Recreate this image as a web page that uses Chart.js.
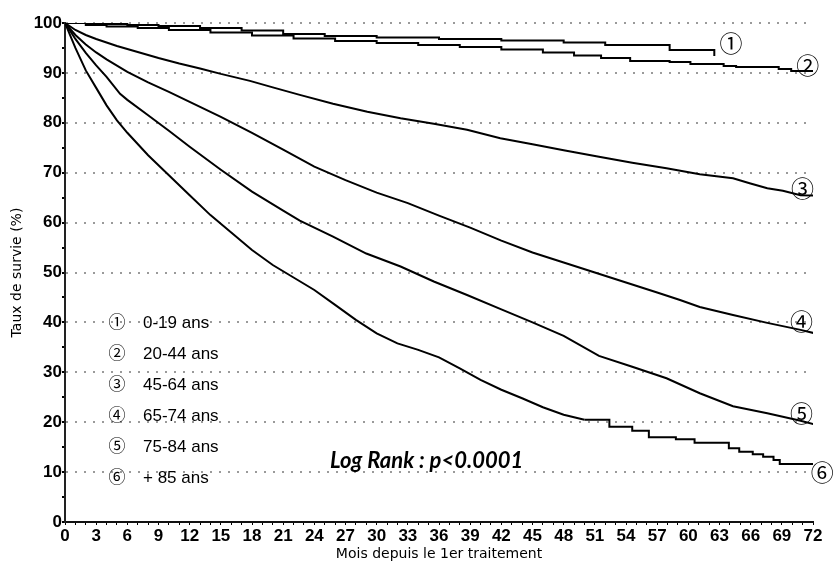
<!DOCTYPE html>
<html>
<head>
<meta charset="utf-8">
<script src="https://cdn.jsdelivr.net/npm/chart.js@4.4.1/dist/chart.umd.min.js"></script>
<style>
    html, body { margin: 0; padding: 0; background: #fff; }
    #wrap { width: 833px; height: 563px; }
</style>
</head>
<body>
<div id="wrap"><canvas id="survival-chart" width="833" height="563"></canvas></div>
<script>
// Kaplan-Meier curves, [month, survival %]
const groupNames = ['0-19 ans', '20-44 ans', '45-64 ans', '65-74 ans', '75-84 ans', '+ 85 ans'];
const groupMarks = ['\u2460', '\u2461', '\u2462', '\u2463', '\u2464', '\u2465'];

const curve1 = [[0, 100], [3, 99.8], [6, 99.6], [9, 99.4], [13, 99.0], [17, 98.5], [21, 97.8], [25, 97.4],
    [30, 97.1], [36, 96.8], [42, 96.5], [48, 96.1], [52, 95.6], [58.2, 94.6], [62.5, 93.4]];

const curve2 = [[0, 100], [2, 99.6], [4, 99.3], [7, 99.0], [10, 98.6], [14, 98.1], [18, 97.5], [22, 96.9],
    [26, 96.4], [30, 96.0], [34, 95.6], [38, 95.2], [42, 94.7], [46, 94.1], [49, 93.5], [51.6, 93.0],
    [54.4, 92.4], [58.2, 92.2], [60.2, 91.8], [63.4, 91.4], [64.6, 91.2], [68.7, 90.8], [69.9, 90.4], [72.4, 90.4]];

const curve3 = [[0, 100], [1, 98.6], [2, 97.6], [3, 96.8], [5, 95.4], [7, 94.2], [9, 93.0], [11, 91.9],
    [13, 90.9], [15, 89.8], [17.8, 88.4], [20, 87.1], [22.6, 85.6], [25.8, 83.8], [29.1, 82.2], [32.3, 80.9],
    [35.5, 79.8], [38.7, 78.6], [41.9, 76.9], [45, 75.7], [48, 74.5], [51.4, 73.2], [54.6, 72.0], [57.9, 70.9],
    [61.1, 69.7], [64.3, 68.9], [65.9, 67.9], [67.6, 66.9], [69.1, 66.4], [70.8, 65.5], [72.4, 65.4]];

const curve4 = [[0, 100], [1, 97.6], [2, 95.7], [3, 94.1], [4, 92.7], [6, 90.2], [8, 88.1], [10, 86.2],
    [12, 84.2], [15, 81.2], [18, 78.0], [21, 74.6], [24, 71.2], [27, 68.5], [30, 66.0], [33, 63.9],
    [36, 61.4], [39, 59.0], [42, 56.4], [45, 54.0], [48, 52.0], [51, 50.0], [54, 48.0], [57, 46.0],
    [59.2, 44.5], [61.1, 43.1], [64.3, 41.5], [67.6, 39.9], [70.8, 38.5], [72.4, 37.7]];

const curve5 = [[0, 100], [1, 96.8], [2, 94.0], [3, 91.5], [4, 89.2], [5.3, 85.8], [6, 84.6], [8, 81.5],
    [10, 78.4], [12, 75.2], [15, 70.6], [18, 66.2], [21, 62.4], [22.6, 60.4], [25.8, 57.2], [29, 53.8],
    [32.3, 51.2], [35.5, 48.2], [38.7, 45.5], [42, 42.6], [45, 40.0], [48, 37.3], [51.4, 33.3], [54.6, 31.1],
    [57.9, 28.8], [61.1, 25.8], [64.3, 23.2], [67.6, 21.8], [70.8, 20.3], [72.4, 19.4]];

const curve6 = [[0, 100], [1, 95.0], [2, 90.5], [3, 87.0], [4, 83.5], [5, 80.5], [6, 78.0], [8, 73.5],
    [10, 69.5], [12, 65.5], [14, 61.5], [16, 58.0], [18, 54.5], [20, 51.5], [22, 49.0], [24, 46.5],
    [26, 43.5], [28, 40.5], [30, 37.8], [32, 35.8], [34, 34.5], [36, 33.0], [38, 30.8], [40, 28.5],
    [42, 26.5], [44, 24.8], [46, 23.0], [48, 21.5], [50, 20.5]];
// late part of the +85 curve, drawn as steps
const curve6Steps = [[50, 20.5], [52.4, 19.1], [54.6, 18.3], [56.2, 17.0], [58.8, 16.6], [60.6, 15.9],
    [63.9, 14.8], [64.9, 14.1], [66.2, 13.6], [67.2, 13.1], [68.2, 12.4], [68.8, 11.6], [72.3, 11.6]];

const logRankText = 'Log Rank : p<0.0001';

function toPoints(curve) {
    return curve.map(([m, s]) => ({ x: m, y: s }));
}

function makeDataset(curve, stepped) {
    return {
        data: toPoints(curve),
        borderColor: '#000',
        borderWidth: 2,
        pointRadius: 0,
        stepped: stepped,
        tension: 0
    };
}

// circled numbers at curve ends, legend block, log rank text
const annotationPlugin = {
    id: 'annotations',
    afterDatasetsDraw(chart) {
        const { ctx, chartArea, scales: { x, y } } = chart;
        const endLabels = [[64.1, 96.0], [71.5, 91.6], [71.0, 66.9], [70.9, 40.3], [70.9, 21.8], [72.9, 10.0]];

        ctx.save();
        ctx.fillStyle = '#000';
        ctx.textBaseline = 'middle';
        ctx.textAlign = 'center';
        ctx.font = '23px "Noto Sans CJK JP"';
        endLabels.forEach(([m, s], i) => {
            ctx.fillText(groupMarks[i], x.getPixelForValue(m), y.getPixelForValue(s));
        });

        ctx.font = '17px "Noto Sans CJK JP"';
        groupMarks.forEach((mark, i) => {
            ctx.fillText(mark, chartArea.left + 52, chartArea.top + 299 + i * 31);
        });
        ctx.textAlign = 'left';
        ctx.font = '17px "Liberation Sans"';
        groupNames.forEach((name, i) => {
            ctx.fillText(name, chartArea.left + 78, chartArea.top + 300 + i * 31);
        });

        ctx.font = 'italic bold 22px Lato';
        ctx.fillText(logRankText, x.getPixelForValue(25.5), y.getPixelForValue(12.3));
        ctx.restore();
    }
};

const tickFont = { family: '"Liberation Sans", Arial, sans-serif', size: 17, weight: 'bold' };
const titleFont = { family: '"DejaVu Sans", sans-serif', size: 14 };

new Chart(document.getElementById('survival-chart'), {
    type: 'line',
    data: {
        datasets: [
            makeDataset(curve1, true),
            makeDataset(curve2, true),
            makeDataset(curve3, false),
            makeDataset(curve4, false),
            makeDataset(curve5, false),
            makeDataset(curve6, false),
            makeDataset(curve6Steps, true)
        ]
    },
    options: {
        responsive: false,
        animation: false,
        events: [],
        layout: { padding: { top: 23, right: 20, left: 5, bottom: 0 } },
        plugins: {
            legend: { display: false },
            tooltip: { enabled: false }
        },
        scales: {
            x: {
                type: 'linear',
                min: 0,
                max: 72,
                afterFit: scale => { scale.height = 41; },
                ticks: {
                    stepSize: 1,
                    autoSkip: false,
                    maxRotation: 0,
                    padding: 1,
                    color: '#000',
                    font: tickFont,
                    callback: v => (v % 3 === 0 ? v : '')
                },
                grid: { drawOnChartArea: false, tickLength: 3, color: '#000', lineWidth: 1 },
                border: { color: '#111', width: 2 },
                title: {
                    display: true,
                    text: 'Mois depuis le 1er traitement',
                    color: '#000',
                    font: titleFont,
                    padding: { top: 0, bottom: 0 }
                }
            },
            y: {
                min: 0,
                max: 100,
                afterFit: scale => { scale.width = 60; },
                ticks: {
                    stepSize: 5,
                    padding: 0,
                    color: '#000',
                    font: tickFont,
                    callback: v => (v % 10 === 0 ? v : '')
                },
                grid: {
                    color: ctx => (ctx.index % 2 === 0 ? '#9a9a9a' : 'rgba(0,0,0,0)'),
                    tickColor: '#000',
                    tickLength: 3,
                    lineWidth: 2
                },
                border: { color: '#222', width: 2, dash: [2, 7] },
                title: {
                    display: true,
                    text: 'Taux de survie (%)',
                    color: '#000',
                    font: titleFont,
                    padding: { top: 4, bottom: 0 }
                }
            }
        }
    },
    plugins: [annotationPlugin]
});
</script>
</body>
</html>
